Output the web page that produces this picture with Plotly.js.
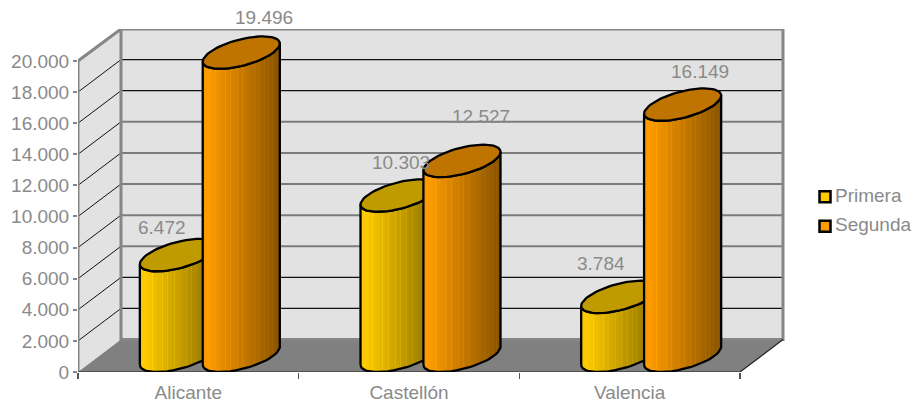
<!DOCTYPE html>
<html><head><meta charset="utf-8">
<script src="https://cdn.plot.ly/plotly-3.0.1.min.js"></script>
<style>html,body{margin:0;padding:0;background:#fff}</style></head>
<body><div id="chart" style="width:914px;height:403px"></div>
<script>
const categories = ["Alicante", "Castellón", "Valencia"];
const primera = [6472, 10303, 3784];
const segunda = [19496, 12527, 16149];
const seriesNames = ["Primera", "Segunda"];
const yTicks = [0,2000,4000,6000,8000,10000,12000,14000,16000,18000,20000];
const gridBlack = [20000,18000,16000,4000,2000];
const gridGray = [14000,12000,10000,8000,6000];
const labelShiftX = [[-16,23],[2,19],[-19,17]];
const labelShiftY = [[-28,-35],[-33,-44],[-33,-33]];

const W=914,H=403,L=78,R=783,T=29,B=372.5;
const pxX=220.67, pxY=311.5/20000;
const depthX=43/pxX, depthY=32.5/pxY;
const yMax=(B-T)/pxY, xMax=(R-L)/pxX, xEnd=(W-L)/pxX;
const U=32/pxX, BX=depthX/2, HY=depthY/2;
const t0=Math.atan2(BX, U);
const fmt=v=>String(v).replace(/\B(?=(\d{3})+$)/g,'.');
const seriesColor=[[255,204,0],[255,156,0]];
const topColor=['#C09B00','#C07400'];
const gray='#868686', txt='#8a8a8a';
const font={family:'"Liberation Sans",Arial,sans-serif',size:19,color:txt};
const stripes=[.16,.29,.36,.45,.52,.6,.67,.72,.8,.85,.9,.95];

function scale(rgb){
  const shade=f=>f<.06?.97+f*.5:1-(f-.06)*.5;
  const col=(f,k)=>{const s=shade(f)*k;return 'rgb('+rgb.map(c=>Math.min(255,Math.round(c*s))).join(',')+')';};
  const out=[[0,col(0,1)],[.06,col(.06,1)]];
  stripes.forEach(p=>{
    out.push([p-.006,col(p-.006,1)],[p-.005,col(p,1.07)],[p+.005,col(p,1.07)],[p+.006,col(p+.006,1)]);
  });
  out.push([1,col(1,1)]);
  return out;
}
function arc(cx,cy,a,b,n){
  const xs=[],ys=[];
  for(let i=0;i<=n;i++){const t=a+(b-a)*i/n;
    xs.push(cx+Math.cos(t)*U+Math.sin(t)*BX);
    ys.push(cy+Math.sin(t)*HY);}
  return [xs,ys];
}
const base={hoverinfo:'skip',showlegend:false,cliponaxis:false,type:'scatter'};
const traces=[];
// walls and floor
traces.push({...base,x:[depthX,xMax,xMax,depthX,depthX],y:[depthY,depthY,yMax,yMax,depthY],mode:'none',fill:'toself',fillcolor:'#E2E2E2'});
traces.push({...base,x:[0,depthX,depthX,0,0],y:[0,depthY,yMax,20000,0],mode:'none',fill:'toself',fillcolor:'#E2E2E2'});
traces.push({...base,x:[0,3,xMax,depthX,0],y:[0,0,depthY,depthY,0],mode:'none',fill:'toself',fillcolor:'#808080'});
// grid
const dx=[],dy=[];
yTicks.filter(v=>v>0&&v<20000).forEach(v=>{dx.push(0,depthX,null);dy.push(v,v+depthY,null);});
traces.push({...base,x:dx,y:dy,mode:'lines',line:{color:'#111',width:1}});
const hl=(vals,color,width)=>{const x=[],y=[];vals.forEach(v=>{if(v<20000){x.push(depthX,xMax,null);y.push(v+depthY,v+depthY,null);}});
  traces.push({...base,x,y,mode:'lines',line:{color,width}});};
hl(gridBlack,'#111',1.2); hl(gridGray,'#7c7c7c',2);
// frame
traces.push({...base,x:[0,0,depthX,xMax,xMax,depthX,depthX],y:[0,20000,yMax,yMax,depthY,depthY,yMax],mode:'lines',line:{color:gray,width:3}});
traces.push({...base,x:[0,3,xMax],y:[0,0,depthY],mode:'lines',line:{color:'#222',width:1.2}});
// cylinders
categories.forEach((c,i)=>{
  [primera[i],segunda[i]].forEach((v,s)=>{
    const cx=i+.5+(s?.1425:-.1425)+BX;
    const [bx,by]=arc(cx,HY,t0+Math.PI,t0+2*Math.PI,32);
    const [tx,ty]=arc(cx,v+HY,t0+2*Math.PI,t0+Math.PI,32);
    traces.push({...base,x:bx.concat(tx,[bx[0]]),y:by.concat(ty,[by[0]]),mode:'lines',fill:'toself',
      fillgradient:{type:'horizontal',colorscale:scale(seriesColor[s])},line:{color:'#000',width:2.3}});
    const [ex,ey]=arc(cx,v+HY,0,2*Math.PI,64);
    traces.push({...base,x:ex,y:ey,mode:'lines',fill:'toself',fillcolor:topColor[s],line:{color:'#000',width:2.3}});
  });
});
// key
seriesNames.forEach((n,s)=>{
  const ky=(B-(197+s*29.5))/pxY;
  traces.push({...base,name:n,x:[(825-L)/pxX],y:[ky],mode:'markers',
    marker:{symbol:'square',size:11,color:'rgb('+seriesColor[s].join(',')+')',line:{color:'#000',width:2.5}}});
  traces.push({...base,x:[(835-L)/pxX],y:[ky],mode:'text',text:[n],textposition:'middle right',textfont:font});
});
const annotations=[];
categories.forEach((c,i)=>{
  [primera[i],segunda[i]].forEach((v,s)=>{
    annotations.push({x:i+.5+(s?.1425:-.1425)+BX,y:v+HY,xref:'x',yref:'y',text:fmt(v),showarrow:false,
      xshift:labelShiftX[i][s],yshift:-labelShiftY[i][s],font,xanchor:'center',yanchor:'middle'});
  });
});
const layout={width:W,height:H,autosize:false,margin:{l:L,r:0,t:T,b:H-B,pad:0},showlegend:false,
  paper_bgcolor:'#fff',plot_bgcolor:'#fff',font,annotations,hovermode:false,
  xaxis:{range:[0,xEnd],tickmode:'array',tickvals:categories.map((c,i)=>i+.5),ticktext:categories,ticks:'',
    showgrid:false,zeroline:false,showline:false,tickfont:font,ticklabelstandoff:7,
    minor:{tickmode:'array',tickvals:[0,1,2,3],ticks:'outside',ticklen:6,tickwidth:1.5,tickcolor:'#555',showgrid:false}},
  yaxis:{range:[0,yMax],tickmode:'array',tickvals:yTicks,ticktext:yTicks.map(fmt),ticks:'outside',ticklen:4,tickwidth:2,tickcolor:gray,
    showgrid:false,zeroline:false,showline:false,tickfont:font,ticklabelstandoff:0}};
Plotly.newPlot('chart',traces,layout,{displayModeBar:false,staticPlot:true});
</script></body></html>
